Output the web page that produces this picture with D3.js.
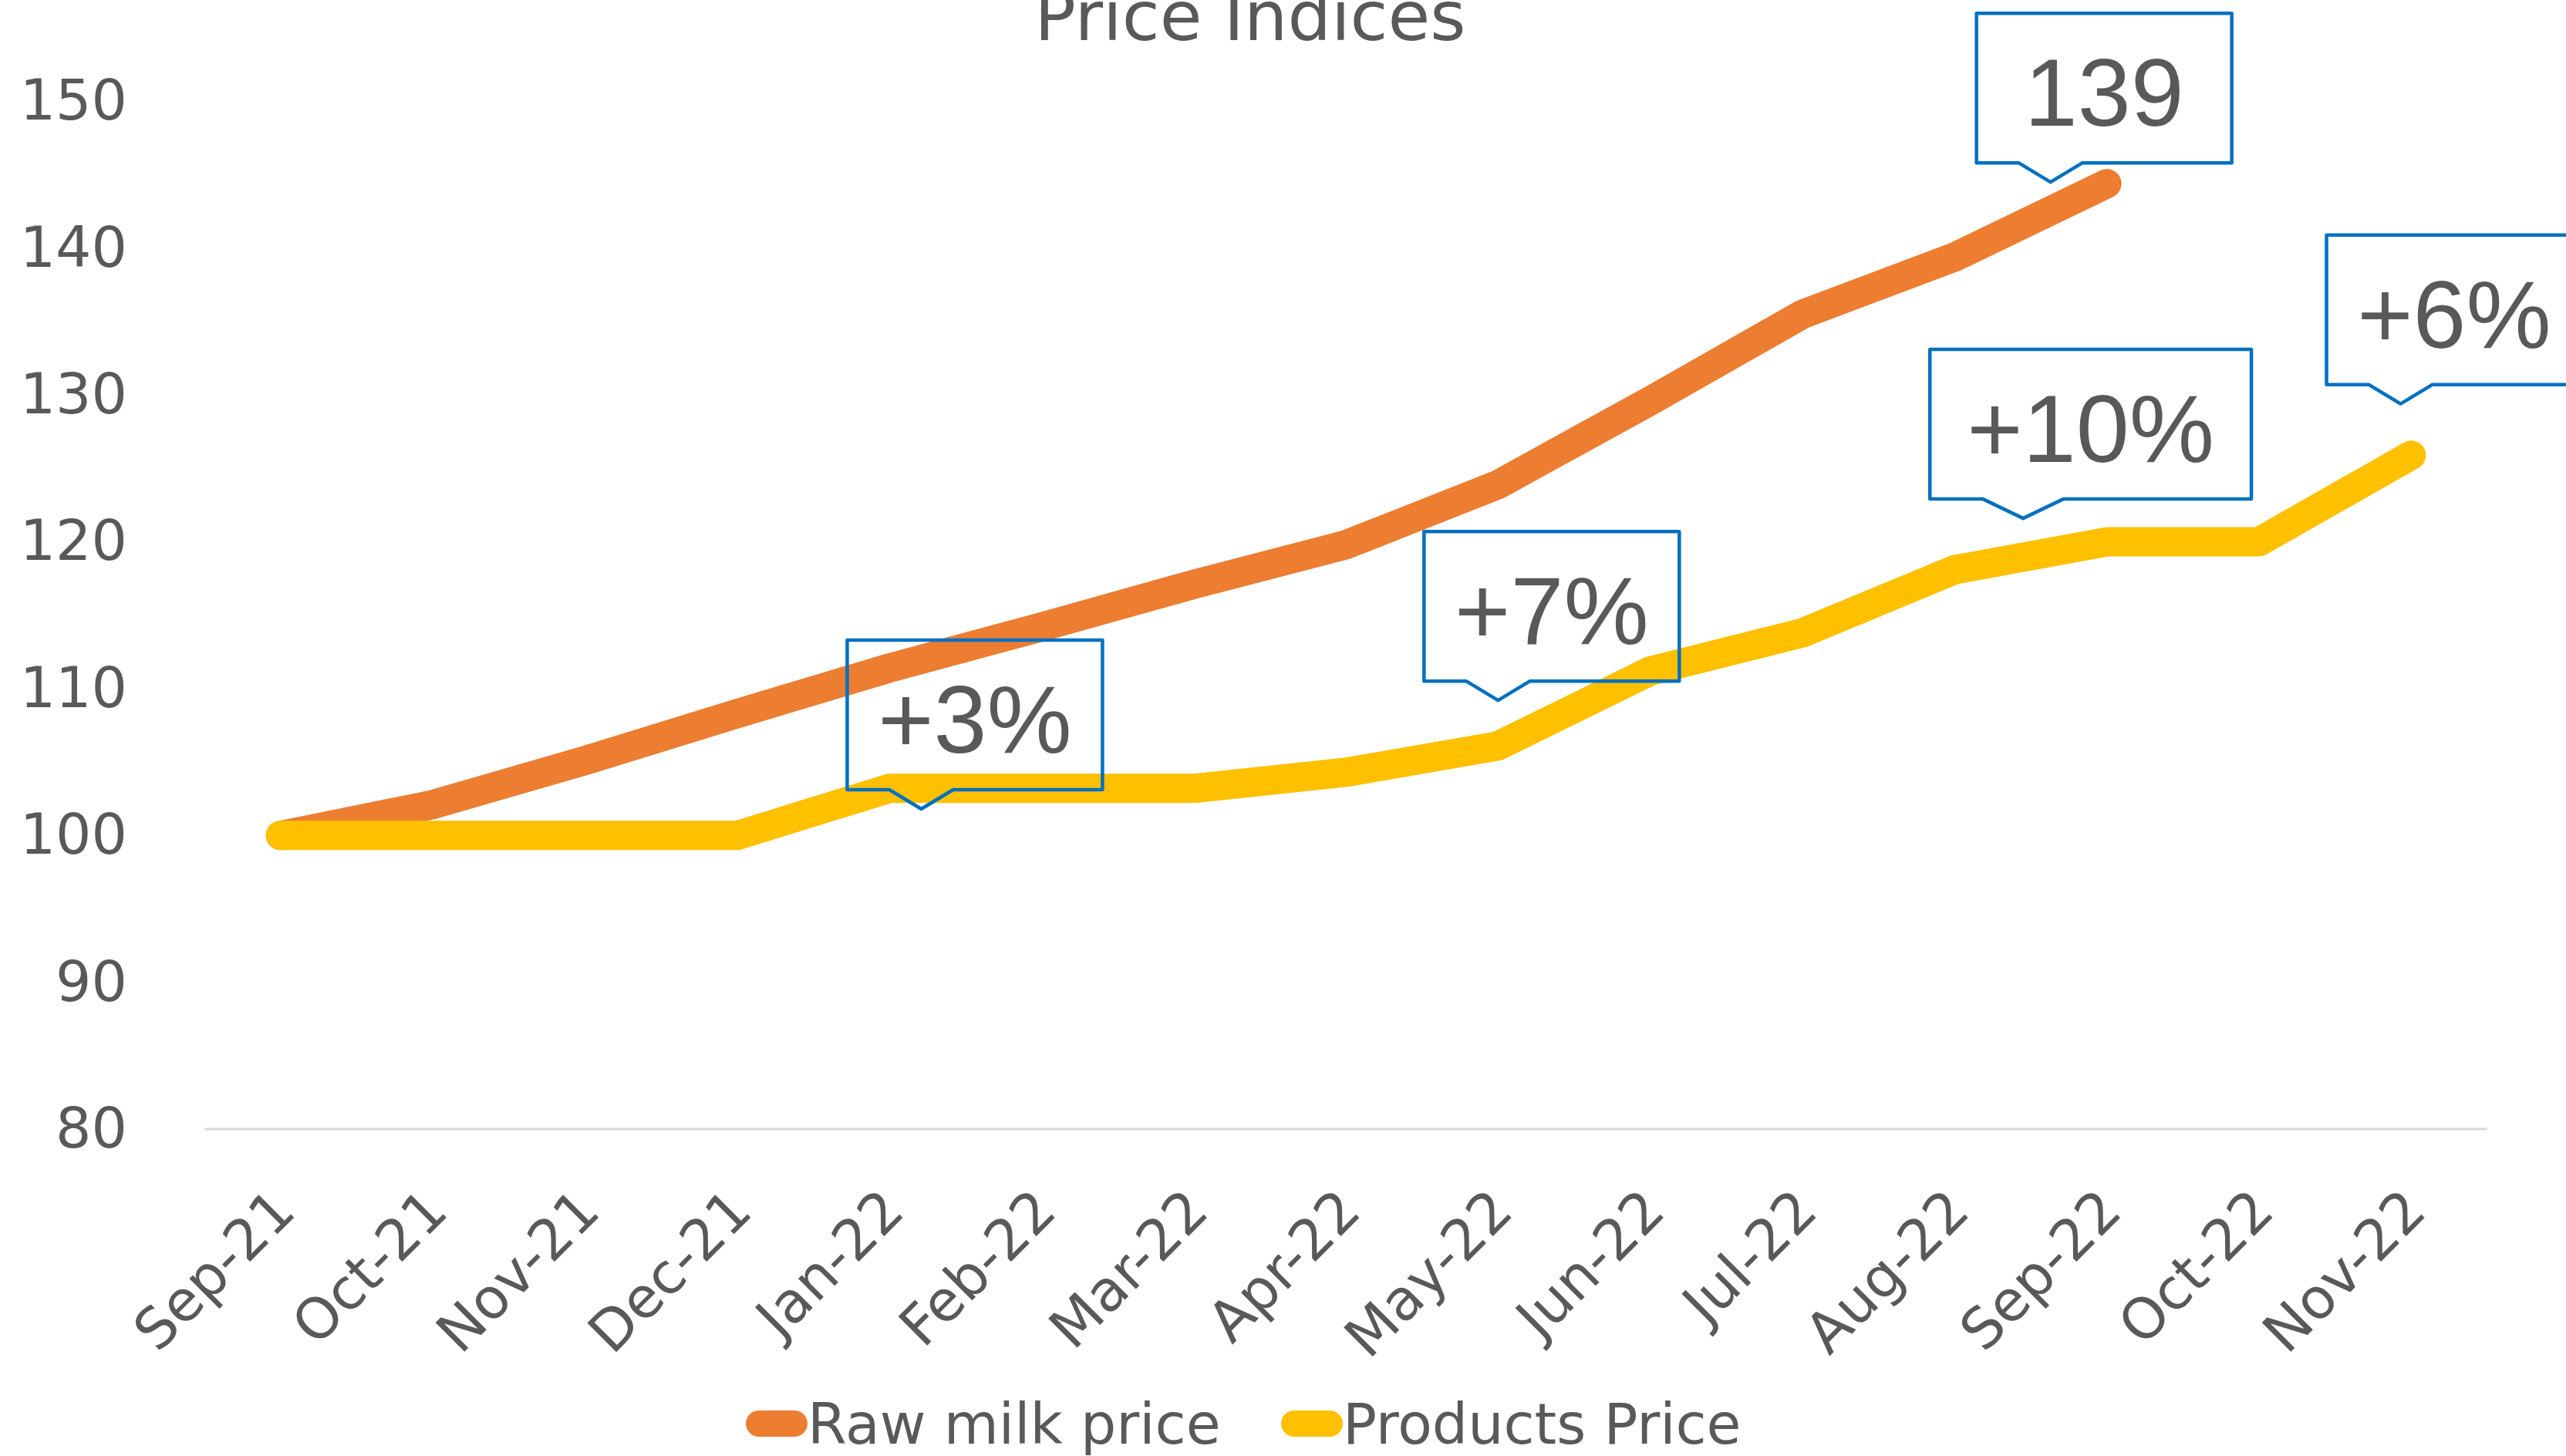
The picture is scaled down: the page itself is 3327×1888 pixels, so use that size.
<!DOCTYPE html>
<html>
<head>
<meta charset="utf-8">
<script src="https://cdn.jsdelivr.net/npm/d3@7"></script>
<style>
  body { margin: 0; background: #fff; }
</style>
</head>
<body>
<script>
// chart values
var months = ["Sep-21", "Oct-21", "Nov-21", "Dec-21", "Jan-22", "Feb-22", "Mar-22",
  "Apr-22", "May-22", "Jun-22", "Jul-22", "Aug-22", "Sep-22", "Oct-22", "Nov-22"];
var rawMilk = [100, 102.1, 105.1, 108.3, 111.4, 114.2, 117.1, 119.8, 123.9, 129.6, 135.5, 139.4, 144.4];
var productsPrice = [100, 100, 100, 100, 103.2, 103.2, 103.2, 104.3, 106.1, 111.2, 113.8, 118.1, 120.0, 120.0, 125.9];
var yTicks = [80, 90, 100, 110, 120, 130, 140, 150];
var seriesNames = ["Raw milk price", "Products Price"];
// callouts: pointer tip in data terms (month + fraction of a month, value)
var calloutLabels = ["+3%", "+7%", "+10%", "139", "+6%"];
var calloutMonths = ["Jan-22", "May-22", "Aug-22", "Aug-22", "Nov-22"];
var calloutShift = [0.21, 0.0, 0.45, 0.63, -0.07];
var calloutValues = [101.8, 109.2, 121.6, 144.5, 129.4];

var W = 3327, H = 1888;
var plotLeft = 265, plotRight = 3225, plotTop = 131.5, plotBottom = 1464;
var colors = ["#ED7D31", "#FFC000"];
var textColor = "#595959";

var svg = d3.select("body").append("svg")
  .attr("width", W)
  .attr("height", H)
  .style("font-family", "'DejaVu Sans', Verdana, sans-serif");

var x = d3.scalePoint().domain(months).range([plotLeft, plotRight]).padding(0.5);
var y = d3.scaleLinear().domain([80, 150]).range([plotBottom, plotTop]);

// title
svg.append("text")
  .attr("x", 1621)
  .attr("y", 52)
  .attr("text-anchor", "middle")
  .attr("font-size", 89)
  .attr("fill", textColor)
  .text("Price Indices");

// baseline
svg.append("line")
  .attr("x1", plotLeft).attr("x2", plotRight)
  .attr("y1", y(80)).attr("y2", y(80))
  .attr("stroke", "#D9D9D9")
  .attr("stroke-width", 3);

// y axis
var yAxis = svg.append("g")
  .attr("transform", `translate(${plotLeft},0)`)
  .call(d3.axisLeft(y).tickValues(yTicks).tickSize(0).tickPadding(100));
yAxis.select(".domain").remove();
yAxis.selectAll("text")
  .attr("font-size", 73)
  .attr("font-family", "'DejaVu Sans', Verdana, sans-serif")
  .attr("fill", textColor);

// x axis
var xAxis = svg.append("g")
  .attr("transform", `translate(0,${plotBottom})`)
  .call(d3.axisBottom(x).tickSize(0));
xAxis.select(".domain").remove();
xAxis.selectAll("text")
  .attr("x", 0).attr("y", 0).attr("dy", 0)
  .attr("transform", "translate(22,110) rotate(-45)")
  .attr("text-anchor", "end")
  .attr("font-size", 73)
  .attr("font-family", "'DejaVu Sans', Verdana, sans-serif")
  .attr("fill", textColor);

// lines
var line = d3.line()
  .x((d, i) => x(months[i]))
  .y(d => y(d));

[rawMilk, productsPrice].forEach(function (series, k) {
  svg.append("path")
    .attr("d", line(series))
    .attr("fill", "none")
    .attr("stroke", colors[k])
    .attr("stroke-width", 38)
    .attr("stroke-linecap", "round")
    .attr("stroke-linejoin", "round");
});

// callouts
var step = x.step();
calloutLabels.forEach(function (label, i) {
  var tx = x(calloutMonths[i]) + calloutShift[i] * step;
  var ty = y(calloutValues[i]);
  var g = svg.append("g");
  var t = g.append("text")
    .attr("font-family", "'Liberation Sans', Arial, sans-serif")
    .attr("font-size", 124)
    .attr("fill", textColor)
    .attr("text-anchor", "middle")
    .text(label);
  var w = Math.max(331, t.node().getComputedTextLength() * 1.3);
  var bx = tx - 0.29 * w;
  var by = ty - 25;
  var hw = 0.125 * w;
  t.attr("x", bx + w / 2).attr("y", by - 194 + 146);
  g.insert("path", "text")
    .attr("d", `M${bx},${by - 194}H${bx + w}V${by}H${tx + hw}L${tx},${ty}L${tx - hw},${by}H${bx}Z`)
    .attr("fill", "none")
    .attr("stroke", "#0070C0")
    .attr("stroke-width", 4.5)
    .attr("stroke-linejoin", "round");
});

// legend
var legendX = [967, 1661];
seriesNames.forEach(function (name, k) {
  var lg = svg.append("g").attr("transform", `translate(${legendX[k]},1846)`);
  lg.append("line")
    .attr("x1", 17).attr("x2", 63)
    .attr("stroke", colors[k])
    .attr("stroke-width", 34)
    .attr("stroke-linecap", "round");
  lg.append("text")
    .attr("x", 80)
    .attr("y", 26)
    .attr("font-size", 73)
    .attr("fill", textColor)
    .text(name);
});
</script>
</body>
</html>
